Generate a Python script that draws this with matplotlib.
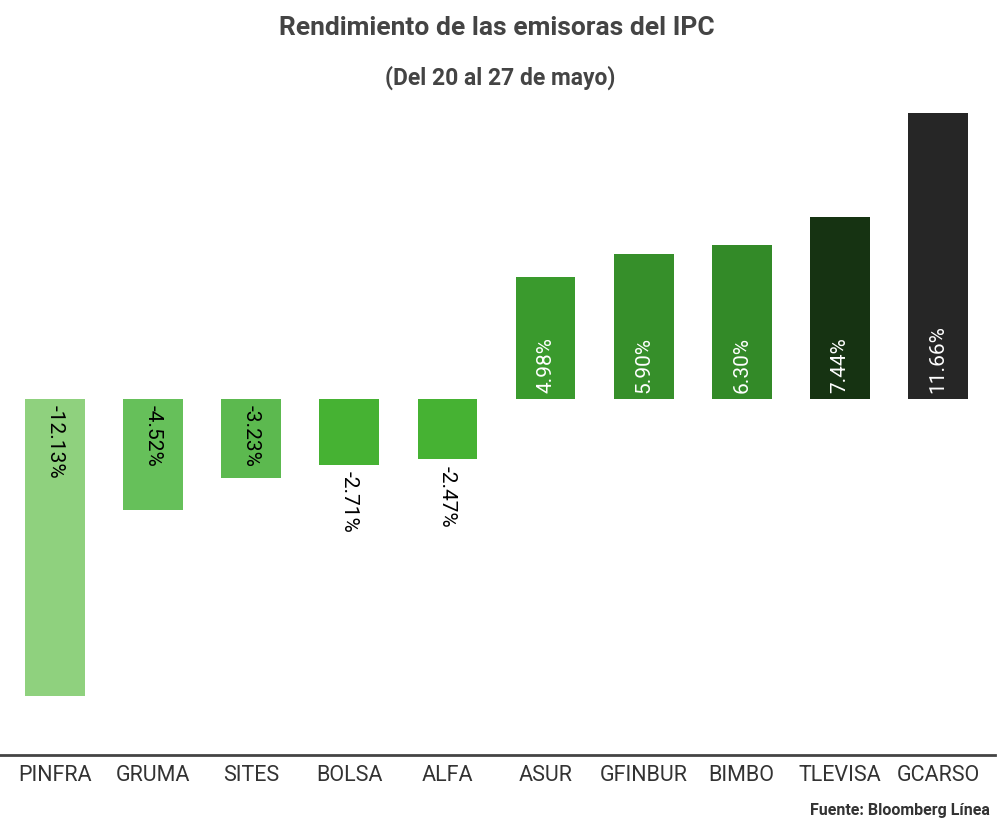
import matplotlib
matplotlib.use('Agg')
import matplotlib.pyplot as plt

plt.rcParams['font.family'] = ['Roboto', 'DejaVu Sans']

tickers = ['PINFRA', 'GRUMA', 'SITES', 'BOLSA', 'ALFA', 'ASUR', 'GFINBUR', 'BIMBO', 'TLEVISA', 'GCARSO']
values = [-12.13, -4.52, -3.23, -2.71, -2.47, 4.98, 5.90, 6.30, 7.44, 11.66]
colors = ['#8fd17e', '#66c05a', '#5cb94f', '#46b233', '#46b233',
          '#3a9a2d', '#368f2a', '#338a28', '#163312', '#262626']

fig = plt.figure(figsize=[10, 8.26], dpi=100)
ax = fig.add_axes([0.006, 1 - 755 / 826, 0.981, (755 - 100) / 826])
x = list(range(len(values)))
ax.bar(x, values, width=0.61, color=colors)
ax.set_xlim(-0.5, 9.5)
ax.set_ylim(-14.53, 12.2)
ax.axis('off')

for i, v in enumerate(values):
    lab = '%.2f%%' % v
    if v > 0:
        ax.text(i, 0.25, lab, rotation=90, ha='center', va='bottom', color='white', fontsize=15)
    elif v > -3:
        ax.text(i, v - 0.25, lab, rotation=-90, ha='center', va='top', color='black', fontsize=15)
    else:
        ax.text(i, -0.25, lab, rotation=-90, ha='center', va='top', color='black', fontsize=15)
    ax.text(i, -15.35, tickers[i], ha='center', va='center', color='#333333', fontsize=15.5)

fig.add_artist(plt.Line2D([0, 0.995], [1 - 755 / 826] * 2, color='#444444', lw=2))
fig.text(0.497, 1 - 28 / 826, 'Rendimiento de las emisoras del IPC', ha='center', va='center',
         fontsize=19, fontweight='bold', color='#444444')
fig.text(0.5, 1 - 78 / 826, '(Del 20 al 27 de mayo)', ha='center', va='center',
         fontsize=16.5, fontweight='bold', color='#444444')
fig.text(0.99, 1 - 810 / 826, 'Fuente: Bloomberg Línea', ha='right', va='center',
         fontsize=11.5, fontweight='bold', color='#333333')
fig.savefig('out.png', dpi=100)
